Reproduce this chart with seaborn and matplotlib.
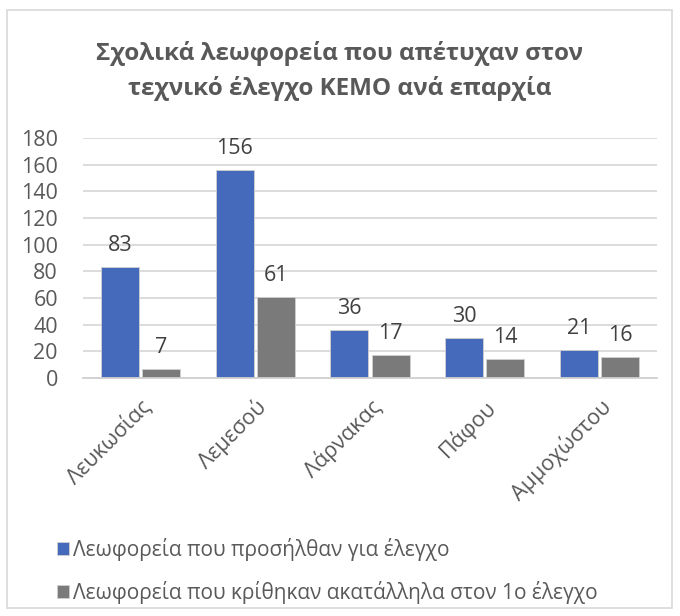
import pandas as pd
import seaborn as sns
import matplotlib.pyplot as plt
from matplotlib.patches import Rectangle

districts = ["Λευκωσίας", "Λεμεσού", "Λάρνακας", "Πάφου", "Αμμοχώστου"]
arrived = [83, 156, 36, 30, 21]
failed = [7, 61, 17, 14, 16]
series_names = [
    "Λεωφορεία που προσήλθαν για έλεγχο",
    "Λεωφορεία που κρίθηκαν ακατάλληλα στον 1ο έλεγχο",
]
title = "Σχολικά λεωφορεία που απέτυχαν στον\nτεχνικό έλεγχο ΚΕΜΟ ανά επαρχία"

df = pd.DataFrame({
    "district": districts * 2,
    "value": arrived + failed,
    "series": [series_names[0]] * len(districts) + [series_names[1]] * len(districts),
})

sns.set_theme(style="white")
plt.rcParams["font.family"] = ["Open Sans", "DejaVu Sans"]
TXT = "#595959"

fig = plt.figure(figsize=(6.8, 6.16), dpi=100)
fig.patches.append(Rectangle((7 / 680, 1 - 608 / 616), 665 / 680, 598 / 616,
                             transform=fig.transFigure, fill=False,
                             edgecolor="#D9D9D9", linewidth=1.2))
ax = fig.add_axes([83 / 680, 1 - 378 / 616, 574 / 680, 240 / 616])

sns.barplot(data=df, x="district", y="value", hue="series",
            palette=["#3163CF", "#7A7A7A"], width=0.72, gap=0.08,
            edgecolor="#D0D0D0", linewidth=0.6, ax=ax, legend=True)

for cont in ax.containers:
    ax.bar_label(cont, padding=8, fontsize=15.5, color="#404040")

ax.set_ylim(0, 180)
ax.set_yticks(range(0, 181, 20))
ax.yaxis.grid(True, color="#D9D9D9", linewidth=1.3)
ax.set_axisbelow(True)
for s in ["top", "right", "left"]:
    ax.spines[s].set_visible(False)
ax.spines["bottom"].set_color("#D0D0D0")
ax.spines["bottom"].set_linewidth(1.3)
ax.tick_params(axis="both", length=0, labelsize=15.5, labelcolor=TXT)
ax.tick_params(axis="y", pad=18)
ax.tick_params(axis="x", pad=13)
ax.set_xlabel("")
ax.set_ylabel("")
plt.setp(ax.get_xticklabels(), rotation=45, ha="right", rotation_mode="anchor",
         fontsize=15.5)

handles, labels = ax.get_legend_handles_labels()
ax.get_legend().remove()
fig.legend(handles, labels, loc="upper left", bbox_to_anchor=(38 / 680, 1 - 519 / 616),
           frameon=False, fontsize=15, labelcolor=TXT, handlelength=0.6,
           handleheight=0.6, handletextpad=0.2, labelspacing=0.95)

fig.text(0.5, 1 - 71 / 616, title, ha="center", va="center", fontsize=17.5,
         fontweight="bold", color=TXT, linespacing=1.55)

fig.savefig("out.png", dpi=100)
